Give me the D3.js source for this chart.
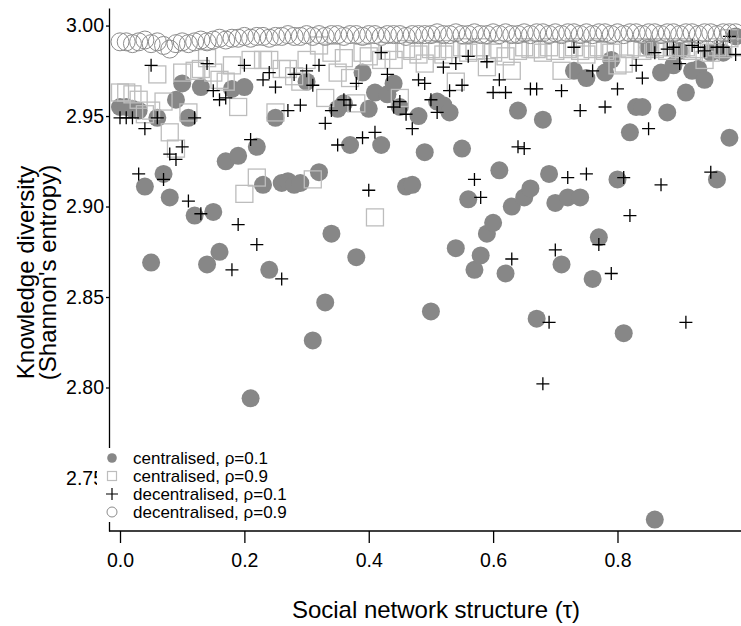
<!DOCTYPE html>
<html lang="en">
<head>
<meta charset="UTF-8">
<title>Knowledge diversity vs social network structure</title>
<script src="https://cdnjs.cloudflare.com/ajax/libs/d3/7.8.5/d3.min.js"></script>
<style>
  body { margin: 0; background: #fff; }
  svg { display: block; font-family: "Liberation Sans", Arial, Helvetica, sans-serif; }
</style>
</head>
<body>
<div id="chart"></div>
<script>
// social network structure (tau), shared by all four runs
const tau = [
  0.00, 0.01, 0.02, 0.03, 0.04, 0.05, 0.06, 0.07, 0.08, 0.09,
  0.10, 0.11, 0.12, 0.13, 0.14, 0.15, 0.16, 0.17, 0.18, 0.19,
  0.20, 0.21, 0.22, 0.23, 0.24, 0.25, 0.26, 0.27, 0.28, 0.29,
  0.30, 0.31, 0.32, 0.33, 0.34, 0.35, 0.36, 0.37, 0.38, 0.39,
  0.40, 0.41, 0.42, 0.43, 0.44, 0.45, 0.46, 0.47, 0.48, 0.49,
  0.50, 0.51, 0.52, 0.53, 0.54, 0.55, 0.56, 0.57, 0.58, 0.59,
  0.60, 0.61, 0.62, 0.63, 0.64, 0.65, 0.66, 0.67, 0.68, 0.69,
  0.70, 0.71, 0.72, 0.73, 0.74, 0.75, 0.76, 0.77, 0.78, 0.79,
  0.80, 0.81, 0.82, 0.83, 0.84, 0.85, 0.86, 0.87, 0.88, 0.89,
  0.90, 0.91, 0.92, 0.93, 0.94, 0.95, 0.96, 0.97, 0.98, 0.99
];

// centralised, rho = 0.1 (filled grey circles)
const centralLow = [
  2.955, 2.955, 2.954, 2.953, 2.911, 2.869, 2.949, 2.918, 2.905, 2.959,
  2.968, 2.949, 2.895, 2.966, 2.868, 2.897, 2.875, 2.925, 2.965, 2.928,
  2.966, 2.794, 2.933, 2.912, 2.865, 2.949, 2.913, 2.914, 2.912, 2.913,
  2.969, 2.826, 2.919, 2.847, 2.885, 2.954, 2.957, 2.934, 2.872, 2.974,
  2.954, 2.963, 2.934, 2.962, 2.968, 2.955, 2.911, 2.912, 2.950, 2.930,
  2.842, 2.958, 2.956, 2.952, 2.877, 2.932, 2.904, 2.865, 2.873, 2.885,
  2.891, 2.920, 2.863, 2.900, 2.953, 2.905, 2.910, 2.838, 2.948, 2.918,
  2.902, 2.868, 2.905, 2.975, 2.905, 2.971, 2.860, 2.883, 2.974, 2.981,
  2.915, 2.830, 2.941, 2.955, 2.955, 2.988, 2.727, 2.974, 2.952, 2.978,
  2.986, 2.963, 2.975, 2.976, 2.970, 2.985, 2.915, 2.985, 2.938, 2.994
];

// centralised, rho = 0.9 (open light squares)
const centralHigh = [
  2.963, 2.963, 2.962, 2.959, 2.951, 2.953, 2.973, 2.958, 2.941, 2.932,
  2.974, 2.952, 2.975, 2.976, 2.982, 2.974, 2.970, 2.969, 2.978, 2.955,
  2.907, 2.981, 2.916, 2.981, 2.981, 2.952, 2.976, 2.976, 2.972, 2.969,
  2.981, 2.915, 2.989, 2.960, 2.985, 2.974, 2.982, 2.971, 2.957, 2.985,
  2.983, 2.894, 2.981, 2.986, 2.981, 2.960, 2.987, 2.986, 2.984, 2.979,
  2.987, 2.986, 2.984, 2.987, 2.969, 2.988, 2.985, 2.986, 2.988, 2.977,
  2.985, 2.987, 2.983, 2.975, 2.986, 2.988, 2.987, 2.987, 2.985, 2.988,
  2.986, 2.975, 2.987, 2.988, 2.986, 2.984, 2.987, 2.988, 2.986, 2.985,
  2.978, 2.979, 2.987, 2.988, 2.986, 2.988, 2.987, 2.988, 2.986, 2.988,
  2.987, 2.988, 2.986, 2.987, 2.981, 2.985, 2.988, 2.987, 2.993, 2.988
];

// decentralised, rho = 0.1 (crosses)
const decentralLow = [
  2.949, 2.949, 2.949, 2.918, 2.943, 2.978, 2.949, 2.915, 2.929, 2.926,
  2.933, 2.903, 2.949, 2.896, 2.979, 2.964, 2.959, 2.960, 2.865, 2.890,
  2.978, 2.937, 2.879, 2.970, 2.974, 2.966, 2.860, 2.953, 2.973, 2.956,
  2.975, 2.967, 2.978, 2.946, 2.953, 2.934, 2.959, 2.956, 2.968, 2.938,
  2.909, 2.941, 2.985, 2.973, 2.955, 2.958, 2.951, 2.943, 2.970, 2.968,
  2.959, 2.952, 2.977, 2.964, 2.979, 2.967, 2.983, 2.915, 2.905, 2.980,
  2.963, 2.970, 2.963, 2.871, 2.933, 2.932, 2.965, 2.965, 2.802, 2.836,
  2.876, 2.964, 2.916, 2.988, 2.953, 2.918, 2.975, 2.879, 2.955, 2.863,
  2.965, 2.916, 2.895, 2.978, 2.971, 2.943, 2.985, 2.912, 2.987, 2.988,
  2.979, 2.836, 2.989, 2.988, 2.986, 2.919, 2.988, 2.988, 2.994, 2.984
];

// decentralised, rho = 0.9 (open grey circles)
const decentralHigh = [
  2.991, 2.991, 2.990, 2.991, 2.992, 2.990, 2.991, 2.989, 2.987, 2.990,
  2.991, 2.990, 2.991, 2.992, 2.991, 2.992, 2.993, 2.992, 2.993, 2.993,
  2.994, 2.993, 2.994, 2.994, 2.993, 2.994, 2.994, 2.995, 2.994, 2.994,
  2.995, 2.994, 2.995, 2.994, 2.995, 2.995, 2.994, 2.995, 2.995, 2.994,
  2.995, 2.995, 2.994, 2.995, 2.995, 2.995, 2.994, 2.995, 2.995, 2.995,
  2.995, 2.996, 2.995, 2.995, 2.996, 2.995, 2.995, 2.996, 2.995, 2.995,
  2.996, 2.995, 2.996, 2.995, 2.995, 2.996, 2.995, 2.996, 2.996, 2.995,
  2.996, 2.995, 2.996, 2.996, 2.995, 2.996, 2.995, 2.996, 2.996, 2.995,
  2.996, 2.995, 2.996, 2.996, 2.995, 2.996, 2.996, 2.995, 2.996, 2.996,
  2.995, 2.996, 2.996, 2.995, 2.996, 2.996, 2.995, 2.996, 2.996, 2.996
];

const xTicks = [0, 0.2, 0.4, 0.6, 0.8];
const yTicks = [2.75, 2.80, 2.85, 2.90, 2.95, 3.00];
const legendLabels = [
  "centralised, \u03c1=0.1",
  "centralised, \u03c1=0.9",
  "decentralised, \u03c1=0.1",
  "decentralised, \u03c1=0.9"
];

const width = 741, height = 626;
const plotLeft = 109, plotTop = 8, plotBottom = 531, plotRight = 763;

const svg = d3.select("#chart").append("svg")
  .attr("width", width)
  .attr("height", height);

svg.append("rect").attr("width", width).attr("height", height).attr("fill", "#fff");

const x = d3.scaleLinear().domain([-0.0177, 1.034]).range([plotLeft, plotRight]);
const y = d3.scaleLinear().domain([2.7207, 3.0097]).range([plotBottom, plotTop]);

const grey = "#878787";
const light = "#bdbdbd";

// centralised rho=0.1
svg.append("g").selectAll("circle")
  .data(tau.map((t, i) => [t, centralLow[i]]))
  .join("circle")
  .attr("cx", d => x(d[0]))
  .attr("cy", d => y(d[1]))
  .attr("r", 9)
  .attr("fill", grey);

// centralised rho=0.9
const sq = 17;
svg.append("g").selectAll("rect")
  .data(tau.map((t, i) => [t, centralHigh[i]]))
  .join("rect")
  .attr("x", d => x(d[0]) - sq / 2)
  .attr("y", d => y(d[1]) - sq / 2)
  .attr("width", sq)
  .attr("height", sq)
  .attr("fill", "none")
  .attr("stroke", light)
  .attr("stroke-width", 1.3);

// decentralised rho=0.1
const cr = 6.5;
svg.append("g").selectAll("path")
  .data(tau.map((t, i) => [t, decentralLow[i]]))
  .join("path")
  .attr("d", d => {
    const cx = x(d[0]), cy = y(d[1]);
    return `M${cx - cr},${cy}H${cx + cr}M${cx},${cy - cr}V${cy + cr}`;
  })
  .attr("stroke", "#000")
  .attr("stroke-width", 1.3)
  .attr("fill", "none");

// decentralised rho=0.9
svg.append("g").selectAll("circle")
  .data(tau.map((t, i) => [t, decentralHigh[i]]))
  .join("circle")
  .attr("cx", d => x(d[0]))
  .attr("cy", d => y(d[1]))
  .attr("r", 9)
  .attr("fill", "none")
  .attr("stroke", "#8c8c8c")
  .attr("stroke-width", 1);

// axes
const xAxis = svg.append("g")
  .attr("transform", `translate(0,${plotBottom})`)
  .call(d3.axisBottom(x).tickValues(xTicks).tickFormat(d3.format(".1f"))
    .tickSize(12).tickSizeOuter(0).tickPadding(10));
const yAxis = svg.append("g")
  .attr("transform", `translate(${plotLeft},0)`)
  .call(d3.axisLeft(y).tickValues(yTicks).tickFormat(d3.format(".2f"))
    .tickSize(3).tickSizeOuter(0).tickPadding(2));

[xAxis, yAxis].forEach(a => {
  a.select(".domain").attr("stroke", "#000").attr("stroke-width", 1.3);
  a.selectAll(".tick line").attr("stroke", "#000").attr("stroke-width", 1.3);
  a.selectAll(".tick text").attr("fill", "#000").style("font-size", "19.5px")
    .style("font-family", "'Liberation Sans', Arial, sans-serif");
});
xAxis.select(".domain").attr("d", `M${plotLeft},0H${plotRight}`);

// axis titles
svg.append("text")
  .attr("x", (plotLeft + plotRight) / 2)
  .attr("y", 618)
  .attr("text-anchor", "middle")
  .style("font-size", "24px")
  .text("Social network structure (\u03c4)");

const yt = svg.append("text")
  .attr("transform", `translate(0,${(plotTop + plotBottom) / 2 + 3}) rotate(-90)`)
  .attr("text-anchor", "middle")
  .style("font-size", "24px");
yt.append("tspan").attr("x", 0).attr("y", 34).text("Knowledge diversity");
yt.append("tspan").attr("x", 0).attr("y", 56).text("(Shannon's entropy)");

// legend with white background
const legend = svg.append("g");
legend.append("rect")
  .attr("x", 97).attr("y", 448).attr("width", 200).attr("height", 74)
  .attr("fill", "#fff");

const rows = legendLabels.map((d, i) => 458 + i * 18);
legend.append("circle").attr("cx", 112).attr("cy", rows[0]).attr("r", 4.8).attr("fill", grey);
legend.append("rect").attr("x", 107.5).attr("y", rows[1] - 4.5).attr("width", 9).attr("height", 9)
  .attr("fill", "none").attr("stroke", light).attr("stroke-width", 1.2);
legend.append("path").attr("d", `M106,${rows[2]}H118M112,${rows[2] - 6}V${rows[2] + 6}`)
  .attr("stroke", "#000").attr("stroke-width", 1.2);
legend.append("circle").attr("cx", 112).attr("cy", rows[3]).attr("r", 5)
  .attr("fill", "none").attr("stroke", "#8c8c8c").attr("stroke-width", 1);

legend.selectAll("text.lab")
  .data(legendLabels)
  .join("text")
  .attr("class", "lab")
  .attr("x", 133)
  .attr("y", (d, i) => rows[i])
  .attr("dy", "0.35em")
  .style("font-size", "17px")
  .text(d => d);
</script>
</body>
</html>
